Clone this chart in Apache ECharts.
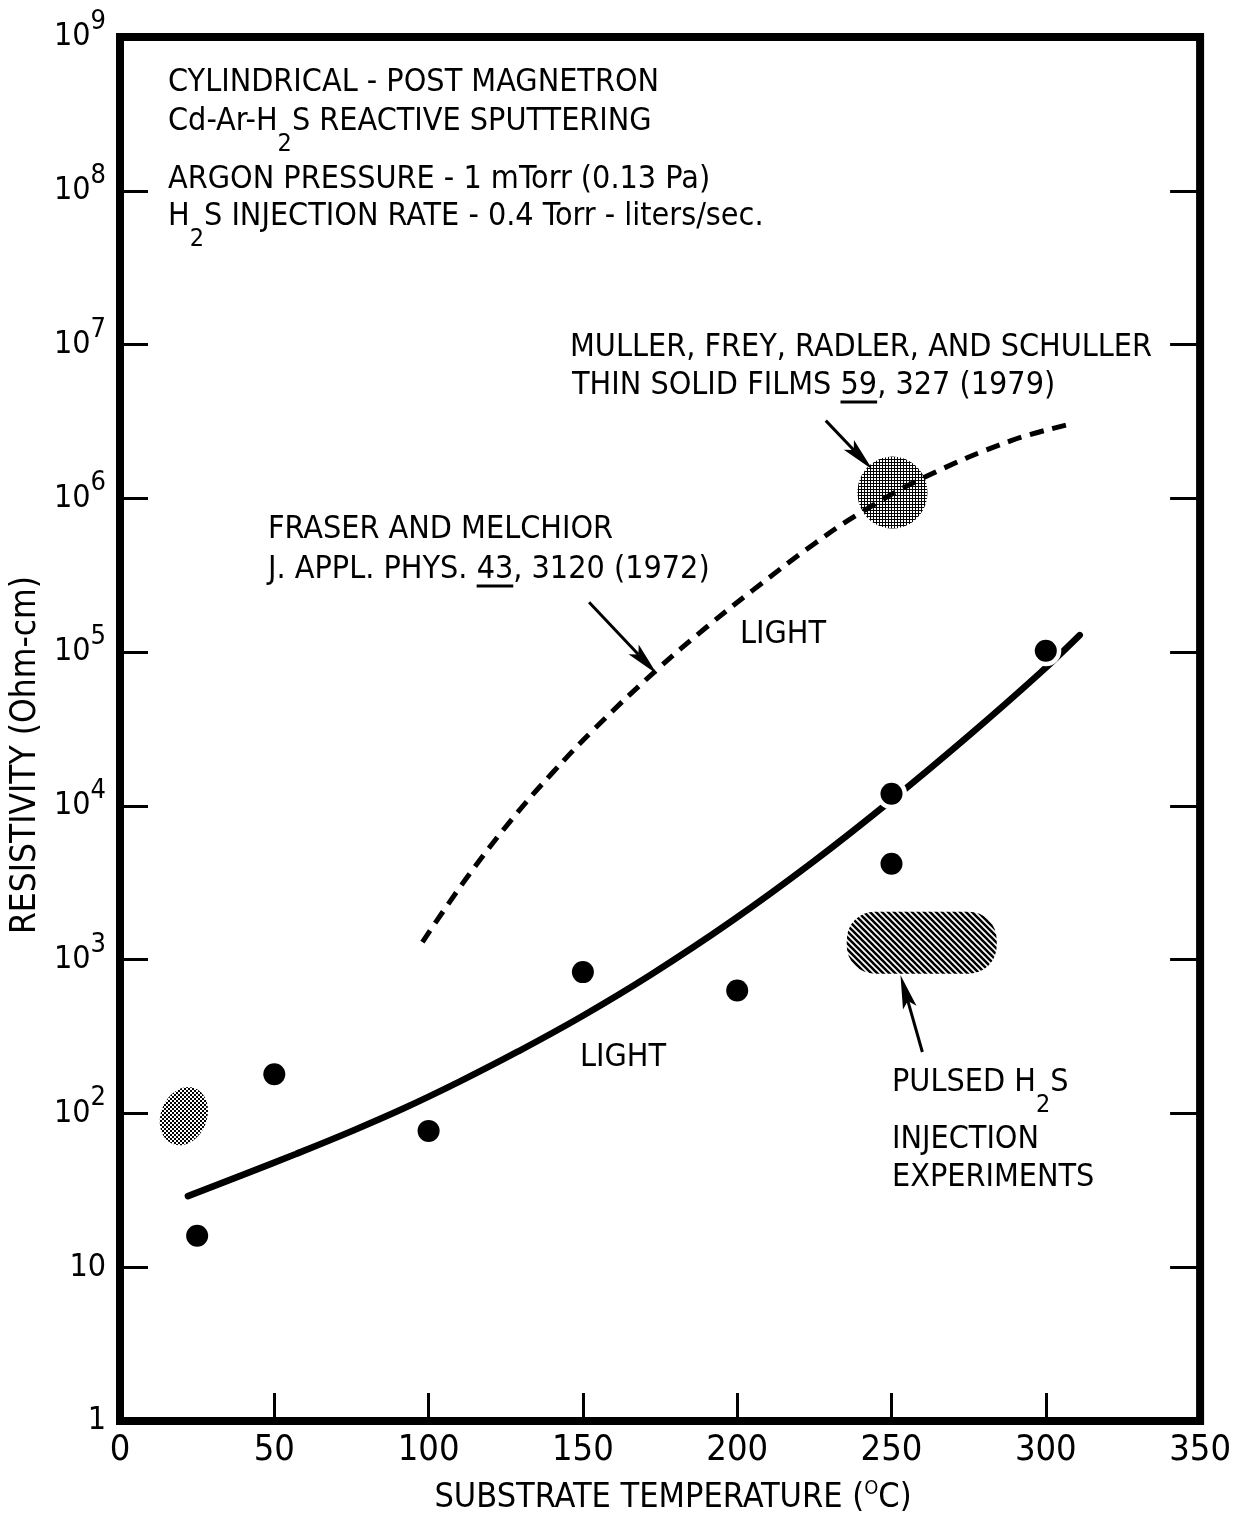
<!DOCTYPE html>
<html><head><meta charset="utf-8">
<script src="https://cdn.jsdelivr.net/npm/echarts@6/dist/echarts.min.js"></script>
<style>html,body{margin:0;padding:0;background:#fff}#c{width:1234px;height:1520px}</style>
</head><body><div id="c"></div>
<script>
// ---------- data ----------
const dotTemps = [25, 50, 100, 150, 200, 250, 250, 300];
const dotResistivity = [16, 180, 77, 830, 630, 12000, 4200, 102000];

const fitTemps = [22, 40, 57, 75, 92, 110, 129, 150, 172, 198, 225, 250, 275, 298, 311];
const fitResistivity = [29, 40, 54.5, 76.6, 108, 161, 253, 432, 798, 1770, 4390, 10900, 28600, 72800, 129000];

const fraserTemps = [98, 112, 127, 140, 154, 174, 190, 205, 225, 240, 261, 289, 309];
const fraserResistivity = [1300, 3330, 8190, 16300, 32100, 76900, 145000, 252000, 507000, 808000, 1380000, 2380000, 3070000];

const blobTemps = [20.7, 250.3, 259.8];
const blobResistivity = [96, 1090000, 1290];

const arrowFromTemps = [228.7, 152, 260];
const arrowFromResistivity = [3200000, 211000, 251];
const arrowToTemps = [243.8, 174, 252.9];
const arrowToResistivity = [1540000, 72000, 796];

const xTickInterval = 50;
const xMin = 0, xMax = 350;
const yMin = 1, yMax = 1e9;

// ---------- helpers ----------
const FAM = '"Liberation Sans Narrow", "DejaVu Sans Condensed", "Roboto", sans-serif';
const mctx = document.createElement('canvas').getContext('2d');
function fnt(size) { return 'normal ' + size + 'px ' + FAM; }
function tw(t, size) { mctx.font = fnt(size); return mctx.measureText(t).width; }

function makePattern(kind) {
  const c = document.createElement('canvas');
  const g = c.getContext('2d');
  if (kind === 'check') {
    c.width = 4; c.height = 4;
    g.fillStyle = '#000';
    g.fillRect(0, 0, 2, 2); g.fillRect(2, 2, 2, 2);
  } else if (kind === 'mesh') {
    c.width = 3; c.height = 3;
    g.fillStyle = '#000';
    g.fillRect(0, 0, 3, 1); g.fillRect(0, 0, 1, 3);
  } else {
    c.width = 6; c.height = 6;
    g.strokeStyle = '#000'; g.lineWidth = 2.6;
    g.beginPath();
    g.moveTo(-1, -1); g.lineTo(7, 7);
    g.moveTo(-4, 2); g.lineTo(4, 10);
    g.moveTo(2, -4); g.lineTo(10, 4);
    g.stroke();
  }
  return { image: c, repeat: 'repeat' };
}

const SIZE = 32, SUB = 25;
function textLine(x, y, parts) {
  const els = [];
  let cx = x;
  parts.forEach(p => {
    const t = p[0], kind = p[1] || '';
    const size = kind === 'sub' ? SUB : SIZE;
    const dy = kind === 'sub' ? 22 : 0;
    els.push({ type: 'text', x: cx, y: y + dy, silent: true, z: 10,
      style: { text: t, font: fnt(size), fill: '#000', textAlign: 'left', textVerticalAlign: 'middle', verticalAlign: 'middle' } });
    const w = tw(t, size);
    if (kind === 'ul') {
      els.push({ type: 'line', silent: true, z: 10, shape: { x1: cx, y1: y + 16, x2: cx + w, y2: y + 16 }, style: { stroke: '#000', lineWidth: 3 } });
    }
    cx += w;
  });
  return els;
}

const graphics = [].concat(
  textLine(168, 83, [['CYLINDRICAL - POST MAGNETRON']]),
  textLine(168, 122, [['Cd-Ar-H'], ['2', 'sub'], ['S REACTIVE SPUTTERING']]),
  textLine(168, 180, [['ARGON PRESSURE - 1 mTorr (0.13 Pa)']]),
  textLine(168, 217, [['H'], ['2', 'sub'], ['S INJECTION RATE - 0.4 Torr - liters/sec.']]),
  textLine(570, 348, [['MULLER, FREY, RADLER, AND SCHULLER']]),
  textLine(572, 386, [['THIN SOLID FILMS '], ['59', 'ul'], [', 327 (1979)']]),
  textLine(268, 530, [['FRASER AND MELCHIOR']]),
  textLine(268, 570, [['J. APPL. PHYS. '], ['43', 'ul'], [', 3120 (1972)']]),
  textLine(740, 635, [['LIGHT']]),
  textLine(580, 1058, [['LIGHT']]),
  textLine(892, 1083, [['PULSED H'], ['2', 'sub'], ['S']]),
  textLine(892, 1140, [['INJECTION']]),
  textLine(892, 1178, [['EXPERIMENTS']])
);

const zip = (a, b) => a.map((v, i) => [v, b[i]]);
const arrowRows = arrowFromTemps.map((v, i) => [v, arrowFromResistivity[i], arrowToTemps[i], arrowToResistivity[i]]);

// blob appearance (pixel sizes, shapes, fills)
const blobStyles = [
  { kind: 'ellipse', rx: 23, ry: 30, rot: 22, fill: makePattern('check') },
  { kind: 'ellipse', rx: 35, ry: 36, rot: 0, fill: makePattern('mesh') },
  { kind: 'rect', w: 150, h: 62, r: 28, fill: makePattern('hatch') }
];

const chart = echarts.init(document.getElementById('c'), null, { renderer: 'canvas' });
const yLabelFmt = v => {
  const e = Math.round(Math.log10(v));
  if (e === 0) return '{b|1}';
  if (e === 1) return '{b|10}';
  return '{b|10}{s|' + e + '}';
};
const yRich = {
  b: { fontSize: 32, fontFamily: FAM, lineHeight: 36, color: '#000' },
  s: { fontSize: 27, fontFamily: FAM, lineHeight: 27, padding: [0, 0, 30, 0], color: '#000' }
};

chart.setOption({
  animation: false,
  backgroundColor: '#fff',
  grid: { left: 120, top: 37, right: 26, bottom: 97, show: true, borderColor: '#000', borderWidth: 8, backgroundColor: 'transparent' },
  xAxis: {
    type: 'value', min: xMin, max: xMax, interval: xTickInterval,
    name: 'SUBSTRATE TEMPERATURE ({s|O}C)', nameLocation: 'middle', nameGap: 58,
    nameTextStyle: { fontSize: 34, fontFamily: FAM, color: '#000', padding: [0, 0, 0, 26],
      rich: { s: { fontSize: 20, fontFamily: FAM, color: '#000', padding: [0, 0, 18, 0] } } },
    axisLine: { show: false },
    axisTick: { show: true, inside: true, length: 28, lineStyle: { color: '#000', width: 3 } },
    axisLabel: { fontSize: 36, fontFamily: FAM, color: '#000', margin: 12 },
    splitLine: { show: false }
  },
  yAxis: [{
    type: 'log', logBase: 10, min: yMin, max: yMax, position: 'left',
    name: 'RESISTIVITY (Ohm-cm)', nameLocation: 'middle', nameRotate: 90, nameGap: 75,
    nameTextStyle: { fontSize: 35, fontFamily: FAM, color: '#000', padding: [0, 52, 0, 0] },
    axisLine: { show: false },
    axisTick: { show: true, inside: true, length: 28, lineStyle: { color: '#000', width: 3 } },
    axisLabel: { formatter: yLabelFmt, rich: yRich, margin: 14 },
    splitLine: { show: false }, minorTick: { show: false }
  }, {
    type: 'log', logBase: 10, min: yMin, max: yMax, position: 'right',
    axisLine: { show: false },
    axisTick: { show: true, inside: true, length: 30, lineStyle: { color: '#000', width: 3 } },
    axisLabel: { show: false },
    splitLine: { show: false }
  }],
  graphic: graphics,
  series: [
    {
      type: 'custom', name: 'blobs', data: zip(blobTemps, blobResistivity), z: 1, silent: true,
      encode: { x: 0, y: 1 },
      renderItem: function (params, api) {
        const c = api.coord([api.value(0), api.value(1)]);
        const s = blobStyles[params.dataIndex];
        if (s.kind === 'rect') {
          return { type: 'rect', shape: { x: c[0] - s.w / 2, y: c[1] - s.h / 2, width: s.w, height: s.h, r: s.r }, style: { fill: s.fill } };
        }
        const pts = [];
        const a = s.rot * Math.PI / 180;
        for (let k = 0; k < 48; k++) {
          const t = k / 48 * Math.PI * 2;
          const ex = s.rx * Math.cos(t), ey = s.ry * Math.sin(t);
          pts.push([c[0] + ex * Math.cos(a) - ey * Math.sin(a), c[1] + ex * Math.sin(a) + ey * Math.cos(a)]);
        }
        return { type: 'polygon', shape: { points: pts }, style: { fill: s.fill } };
      }
    },
    {
      type: 'line', name: 'Fraser and Melchior', data: zip(fraserTemps, fraserResistivity), smooth: 0.4,
      showSymbol: false, z: 3, silent: true,
      lineStyle: { color: '#000', width: 5, type: [14, 9], cap: 'butt' }
    },
    {
      type: 'line', name: 'fit', data: zip(fitTemps, fitResistivity), smooth: 0.4,
      showSymbol: false, z: 3, silent: true,
      lineStyle: { color: '#000', width: 6.5, cap: 'round' }
    },
    {
      type: 'scatter', name: 'halo', data: zip(dotTemps, dotResistivity), z: 4, silent: true,
      symbolSize: 31, itemStyle: { color: '#fff', opacity: 1 }
    },
    {
      type: 'scatter', name: 'measured', data: zip(dotTemps, dotResistivity), z: 5, silent: true,
      symbolSize: 22, itemStyle: { color: '#000', opacity: 1 }
    },
    {
      type: 'custom', name: 'arrows', data: arrowRows, z: 6, silent: true,
      encode: { x: [0, 2], y: [1, 3] },
      renderItem: function (params, api) {
        const p1 = api.coord([api.value(0), api.value(1)]);
        const p2 = api.coord([api.value(2), api.value(3)]);
        const dx = p2[0] - p1[0], dy = p2[1] - p1[1];
        const len = Math.hypot(dx, dy);
        const ux = dx / len, uy = dy / len, nx = -uy, ny = ux;
        const hl = 34, hw = 7, notch = 7;
        const bx = p2[0] - ux * hl, by = p2[1] - uy * hl;
        const mx = bx + ux * notch, my = by + uy * notch;
        return { type: 'group', children: [
          { type: 'line', shape: { x1: p1[0], y1: p1[1], x2: mx, y2: my }, style: { stroke: '#000', lineWidth: 3 } },
          { type: 'polygon', shape: { points: [[p2[0], p2[1]], [bx + nx * hw, by + ny * hw], [mx, my], [bx - nx * hw, by - ny * hw]] }, style: { fill: '#000' } }
        ] };
      }
    }
  ]
});
</script>
</body></html>
